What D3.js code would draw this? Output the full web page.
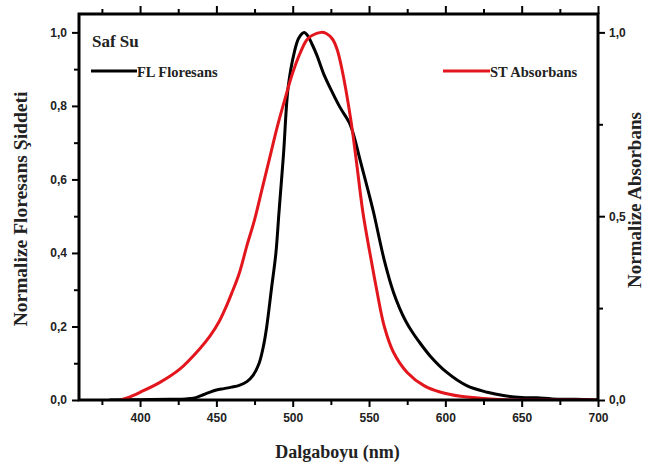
<!DOCTYPE html>
<html>
<head>
<meta charset="utf-8">
<script src="https://cdn.jsdelivr.net/npm/d3@7"></script>
<style>
  body { margin: 0; background: #fff; }
  svg { display: block; }
</style>
</head>
<body>
<div id="chart"></div>
<script>
// wavelength (nm) -> normalized fluorescence
const flWave = [380, 400, 420, 430, 435, 440, 445, 450, 455, 460, 465, 470, 474, 478, 481, 483, 486, 489, 491, 494, 497, 501, 504, 507.5, 510, 513, 516, 520, 525, 531, 537, 540, 544, 550, 553, 560, 566, 570, 574, 578, 582, 590, 601, 614, 627.5, 638, 650, 660, 670, 685, 700];
const flValue = [0, 0.001, 0.002, 0.003, 0.005, 0.012, 0.02, 0.027, 0.031, 0.035, 0.04, 0.05, 0.067, 0.1, 0.15, 0.2, 0.3, 0.4, 0.51, 0.67, 0.85, 0.945, 0.985, 1.0, 0.99, 0.965, 0.936, 0.89, 0.845, 0.796, 0.755, 0.72, 0.655, 0.56, 0.51, 0.38, 0.293, 0.25, 0.215, 0.187, 0.163, 0.12, 0.075, 0.039, 0.021, 0.012, 0.007, 0.006, 0.003, 0.002, 0];

// wavelength (nm) -> normalized absorbance
const stWave = [387, 393, 400, 413, 426, 439, 446, 452, 456, 460, 465, 470, 475, 480, 485, 490, 495, 500, 505, 510, 518.5, 522, 526, 529, 532, 538, 542, 546, 551, 555, 560, 566, 575, 586, 597, 610, 625, 640, 660, 700];
const stValue = [0, 0.008, 0.021, 0.048, 0.084, 0.139, 0.175, 0.215, 0.25, 0.29, 0.345, 0.42, 0.49, 0.575, 0.66, 0.745, 0.82, 0.89, 0.945, 0.983, 1.0, 0.997, 0.982, 0.955, 0.905, 0.764, 0.64, 0.51, 0.39, 0.3, 0.2, 0.13, 0.075, 0.039, 0.021, 0.01, 0.004, 0.001, 0, 0];

const xMajor = [400, 450, 500, 550, 600, 650, 700];
const xMinor = [375, 425, 475, 525, 575, 625, 675];
const yLeftMajor = [0, 0.2, 0.4, 0.6, 0.8, 1.0];
const yLeftMinor = [0.1, 0.3, 0.5, 0.7, 0.9];
const yRightMajor = [0, 0.5, 1.0];
const yRightMinor = [0.25, 0.75];

const W = 647, H = 469;
const pL = 79, pR = 598, pT = 14, pB = 400;
const red = '#e2161c';

const svg = d3.select('#chart').append('svg')
  .attr('width', W).attr('height', H);

const x = d3.scaleLinear().domain([360, 700]).range([pL, pR]);
const y = d3.scaleLinear().domain([0, 1.05]).range([pB, pT]);
const yR = d3.scaleLinear().domain([0, 1.05]).range([pB, pT]);

const fmt = d => d3.format('.1f')(d).replace('.', ',');
const tickFont = 'Liberation Sans, Arial, sans-serif';
const serif = 'Liberation Serif, Times New Roman, serif';

function styleAxis(g) {
  g.select('.domain').remove();
  g.selectAll('.tick line').attr('stroke', '#000').attr('stroke-width', 2);
  g.selectAll('.tick text')
    .attr('font-family', tickFont).attr('font-weight', 'bold')
    .attr('font-size', 12).attr('fill', '#222');
}

// bottom axis
svg.append('g').attr('transform', `translate(0,${pB})`)
  .call(d3.axisBottom(x).tickValues(xMajor).tickFormat(d3.format('d')).tickSize(7).tickPadding(6))
  .call(styleAxis);
svg.append('g').attr('transform', `translate(0,${pB})`)
  .call(d3.axisBottom(x).tickValues(xMinor).tickFormat('').tickSize(5))
  .call(styleAxis);

// top axis, no labels
svg.append('g').attr('transform', `translate(0,${pT})`)
  .call(d3.axisTop(x).tickValues(xMajor).tickFormat('').tickSize(8))
  .call(styleAxis);
svg.append('g').attr('transform', `translate(0,${pT})`)
  .call(d3.axisTop(x).tickValues(xMinor).tickFormat('').tickSize(5))
  .call(styleAxis);

// left axis
svg.append('g').attr('transform', `translate(${pL},0)`)
  .call(d3.axisLeft(y).tickValues(yLeftMajor).tickFormat(fmt).tickSize(7).tickPadding(5))
  .call(styleAxis);
svg.append('g').attr('transform', `translate(${pL},0)`)
  .call(d3.axisLeft(y).tickValues(yLeftMinor).tickFormat('').tickSize(5))
  .call(styleAxis);

// right axis
svg.append('g').attr('transform', `translate(${pR},0)`)
  .call(d3.axisRight(yR).tickValues(yRightMajor).tickFormat(fmt).tickSize(7).tickPadding(4))
  .call(styleAxis);
svg.append('g').attr('transform', `translate(${pR},0)`)
  .call(d3.axisRight(yR).tickValues(yRightMinor).tickFormat('').tickSize(5))
  .call(styleAxis);

// curves
svg.append('clipPath').attr('id', 'clip')
  .append('rect').attr('x', pL).attr('y', pT - 5)
  .attr('width', pR - pL).attr('height', pB - pT + 5);

const line = d3.line()
  .x(d => x(d[0])).y(d => Math.min(pB, y(d[1])))
  .curve(d3.curveCatmullRom.alpha(0.5));

svg.append('path')
  .datum(d3.zip(flWave, flValue))
  .attr('clip-path', 'url(#clip)')
  .attr('fill', 'none').attr('stroke', '#000').attr('stroke-width', 3)
  .attr('d', line);

svg.append('path')
  .datum(d3.zip(stWave, stValue))
  .attr('clip-path', 'url(#clip)')
  .attr('fill', 'none').attr('stroke', red).attr('stroke-width', 3)
  .attr('d', line);

// frame
svg.append('rect')
  .attr('x', pL).attr('y', pT)
  .attr('width', pR - pL).attr('height', pB - pT)
  .attr('fill', 'none').attr('stroke', '#000').attr('stroke-width', 3);

// texts
svg.append('text').attr('x', 92).attr('y', 47)
  .attr('font-family', serif).attr('font-weight', 'bold').attr('font-size', 17)
  .attr('fill', '#222').text('Saf Su');

svg.append('line').attr('x1', 91).attr('x2', 137).attr('y1', 71).attr('y2', 71)
  .attr('stroke', '#000').attr('stroke-width', 3);
svg.append('text').attr('x', 137).attr('y', 77)
  .attr('font-family', serif).attr('font-weight', 'bold').attr('font-size', 14.5)
  .attr('fill', '#222').text('FL Floresans');

svg.append('line').attr('x1', 443).attr('x2', 490).attr('y1', 71).attr('y2', 71)
  .attr('stroke', red).attr('stroke-width', 3);
svg.append('text').attr('x', 490).attr('y', 77)
  .attr('font-family', serif).attr('font-weight', 'bold').attr('font-size', 14.5)
  .attr('fill', '#222').text('ST Absorbans');

svg.append('text').attr('x', (pL + pR) / 2 - 1).attr('y', 458)
  .attr('text-anchor', 'middle')
  .attr('font-family', serif).attr('font-weight', 'bold').attr('font-size', 18)
  .attr('fill', '#222').text('Dalgaboyu (nm)');

svg.append('text')
  .attr('transform', 'translate(27,209) rotate(-90)')
  .attr('text-anchor', 'middle')
  .attr('font-family', serif).attr('font-weight', 'bold').attr('font-size', 19.5)
  .attr('fill', '#222').text('Normalize Floresans Şiddeti');

svg.append('text')
  .attr('transform', 'translate(641,200) rotate(-90)')
  .attr('text-anchor', 'middle')
  .attr('font-family', serif).attr('font-weight', 'bold').attr('font-size', 19)
  .attr('fill', '#222').text('Normalize Absorbans');
</script>
</body>
</html>
